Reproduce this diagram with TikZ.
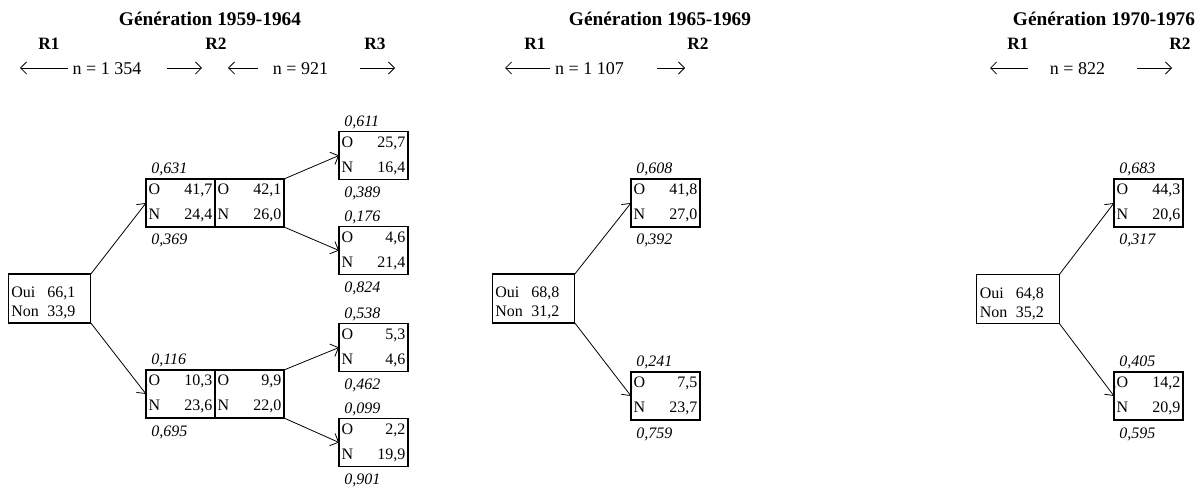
\documentclass[tikz,border=0pt]{standalone}
\usepackage{fontspec}
\setmainfont{Liberation Serif}
\usepackage{tikz}
\usetikzlibrary{arrows.meta,positioning,calc}

% box contents
\newcommand{\onrows}[2]{\makebox[\linewidth]{O\hfill #1}\\\makebox[\linewidth]{N\hfill #2}}
\newcommand{\ouinon}[2]{\makebox[27pt][l]{Oui}#1\\\makebox[27pt][l]{Non}#2}

\begin{document}
\begin{tikzpicture}[
    x=0.75pt, y=-0.75pt,
    box/.style={rectangle, draw, line width=0.9pt, outer sep=0pt, inner xsep=2pt,
        text width=47.75pt, minimum height=36pt, align=left,
        font=\fontsize{12}{18.75}\selectfont},
    rootbox/.style={rectangle, draw, line width=0.9pt, outer sep=0pt, inner xsep=2.25pt,
        text width=57.5pt, minimum height=36.75pt, align=left},
    roottext/.style={anchor=base west, inner sep=0pt, align=left,
        font=\fontsize{12}{14.25}\selectfont},
    prob/.style={inner sep=0pt, font=\fontsize{12}{13}\selectfont\itshape},
    ptop/.style={prob, anchor=base west, xshift=3.75pt, yshift=3.75pt},
    pbot/.style={prob, anchor=base west, xshift=3.75pt, yshift=-13.5pt},
    arrow/.style={-{Straight Barb[length=5pt,width=10pt]}, line width=0.6pt},
    harrow/.style={-{Straight Barb[length=4.5pt,width=9pt]}, line width=0.6pt},
    gentitle/.style={anchor=base, inner sep=0pt, font=\fontsize{14.5}{16}\selectfont\bfseries},
    rlabel/.style={anchor=base, inner sep=0pt, font=\fontsize{13}{15}\selectfont\bfseries},
    count/.style={anchor=base, inner sep=0pt, font=\fontsize{13.5}{15}\selectfont}
]
\useasboundingbox (0,0) rectangle (1199,491);

% headers
\node[gentitle] (g1) at (210,26) {Génération 1959-1964};
\node[gentitle] (g2) at (660,26) {Génération 1965-1969};
\node[gentitle] (g3) at (1104,26) {Génération 1970-1976};

\node[rlabel] (r11) at (49,50) {R1};
\node[rlabel] (r12) at (216,50) {R2};
\node[rlabel] (r13) at (375,50) {R3};
\node[rlabel] (r21) at (535,50) {R1};
\node[rlabel] (r22) at (698,50) {R2};
\node[rlabel] (r31) at (1018,50) {R1};
\node[rlabel] (r32) at (1180,50) {R2};

\node[count] (n1) at (107,75) {n = 1~354};
\node[count] (n2) at (300.5,75) {n = 921};
\node[count] (n3) at (589.5,75) {n = 1~107};
\node[count] (n4) at (1077.5,75) {n = 822};

\foreach \a/\b [count=\i] in {68/20, 167/202, 258/228, 360/395,
                              550/505, 657/685, 1028/990, 1137/1172} {
    \coordinate (hs\i) at (\a,68);
    \coordinate (he\i) at (\b,68);
    \draw[harrow] (hs\i) -- (he\i);
}

% generation 1959-1964
\node[rootbox] (root1) at (49.5,298.5) {};
\node[roottext] (t1) at ($(root1.south west)+(3,-6)$) {\ouinon{66,1}{33,9}};
\node[box] (a1) at (180.5,203) {\onrows{41,7}{24,4}};
\node[box, right=0pt of a1] (a2) {\onrows{42,1}{26,0}};
\node[box] (b1) at (373.5,155.5) {\onrows{25,7}{16,4}};
\node[box] (b2) at (373.5,250.5) {\onrows{4,6}{21,4}};
\node[box] (c1) at (180.5,394) {\onrows{10,3}{23,6}};
\node[box, right=0pt of c1] (c2) {\onrows{9,9}{22,0}};
\node[box] (d1) at (373.5,347.5) {\onrows{5,3}{4,6}};
\node[box] (d2) at (373.5,442.5) {\onrows{2,2}{19,9}};

\node[ptop] at (a1.north west) {0,631};
\node[pbot] at (a1.south west) {0,369};
\node[ptop] at (b1.north west) {0,611};
\node[pbot] at (b1.south west) {0,389};
\node[ptop] at (b2.north west) {0,176};
\node[pbot] at (b2.south west) {0,824};
\node[ptop] at (c1.north west) {0,116};
\node[pbot] at (c1.south west) {0,695};
\node[ptop] at (d1.north west) {0,538};
\node[pbot] at (d1.south west) {0,462};
\node[ptop] at (d2.north west) {0,099};
\node[pbot] at (d2.south west) {0,901};

\draw[arrow] (root1.north east) -- (a1.west);
\draw[arrow] (root1.south east) -- (c1.west);
\draw[arrow] (a2.north east) -- (b1.west);
\draw[arrow] (a2.south east) -- (b2.west);
\draw[arrow] (c2.north east) -- (d1.west);
\draw[arrow] (c2.south east) -- (d2.west);

% generation 1965-1969
\node[rootbox] (root2) at (533.5,298.5) {};
\node[roottext] (t2) at ($(root2.south west)+(3,-6)$) {\ouinon{68,8}{31,2}};
\node[box] (e1) at (665.5,203) {\onrows{41,8}{27,0}};
\node[box] (e2) at (665.5,396) {\onrows{7,5}{23,7}};
\node[ptop] at (e1.north west) {0,608};
\node[pbot] at (e1.south west) {0,392};
\node[ptop] at (e2.north west) {0,241};
\node[pbot] at (e2.south west) {0,759};
\draw[arrow] (root2.north east) -- (e1.west);
\draw[arrow] (root2.south east) -- (e2.west);

% generation 1970-1976
\node[rootbox] (root3) at (1018,299) {};
\node[roottext] (t3) at ($(root3.south west)+(3,-6)$) {\ouinon{64,8}{35,2}};
\node[box] (f1) at (1148.5,203) {\onrows{44,3}{20,6}};
\node[box] (f2) at (1148.5,396) {\onrows{14,2}{20,9}};
\node[ptop] at (f1.north west) {0,683};
\node[pbot] at (f1.south west) {0,317};
\node[ptop] at (f2.north west) {0,405};
\node[pbot] at (f2.south west) {0,595};
\draw[arrow] (root3.north east) -- (f1.west);
\draw[arrow] (root3.south east) -- (f2.west);
\end{tikzpicture}
\end{document}
